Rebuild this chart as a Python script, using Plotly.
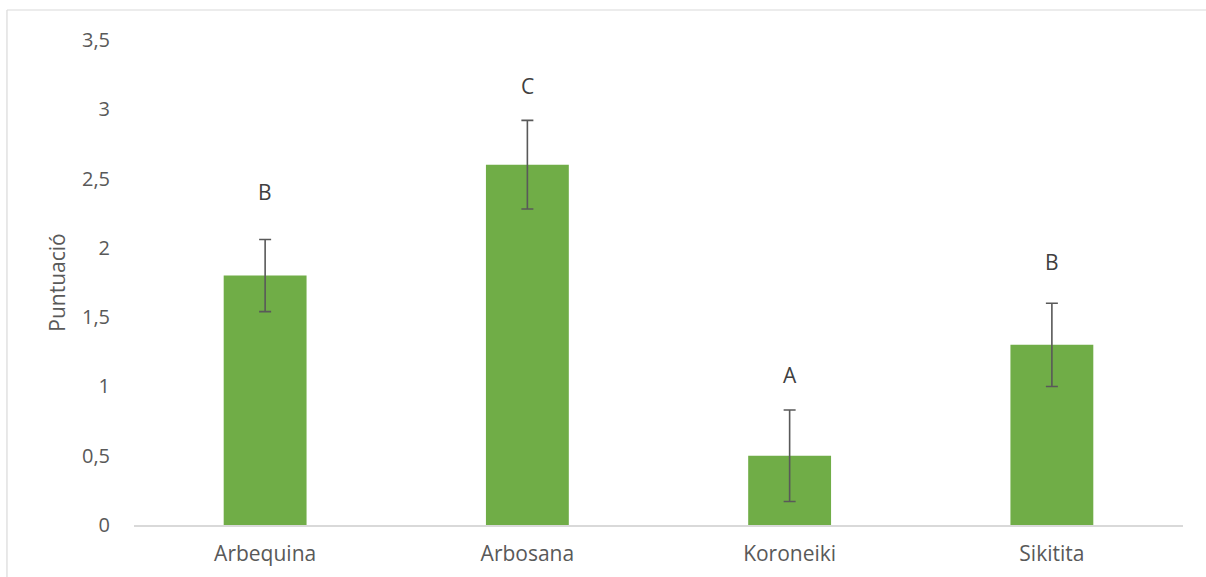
import plotly.graph_objects as go

categories = ["Arbequina", "Arbosana", "Koroneiki", "Sikitita"]
scores = [1.8, 2.6, 0.5, 1.3]
errors = [0.26, 0.32, 0.33, 0.30]
letters = ["B", "C", "A", "B"]
letter_y = [2.40, 3.17, 1.08, 1.90]
y_ticks = [0, 0.5, 1, 1.5, 2, 2.5, 3, 3.5]
y_tick_labels = ["0", "0,5", "1", "1,5", "2", "2,5", "3", "3,5"]

FONT = "Open Sans"
GREY = "#595959"

fig = go.Figure()
fig.add_trace(go.Bar(
    x=categories, y=scores, width=0.316,
    marker=dict(color="#70AD47", line=dict(width=0)),
    error_y=dict(type="data", array=errors, visible=True,
                 color=GREY, thickness=1.6, width=6),
    showlegend=False, hoverinfo="skip",
))

for c, t, yy in zip(categories, letters, letter_y):
    fig.add_annotation(x=c, y=yy, text=t, showarrow=False,
                       font=dict(family=FONT, size=21, color="#404040"))

# outer chart frame (cropped: only left and top edges visible)
fig.add_shape(type="line", xref="paper", yref="paper",
              x0=-0.1211, x1=-0.1211, y0=-0.2, y1=1.0619,
              line=dict(color="#D9D9D9", width=1.2))
fig.add_shape(type="line", xref="paper", yref="paper",
              x0=-0.1211, x1=1.1, y0=1.0619, y1=1.0619,
              line=dict(color="#D9D9D9", width=1.2))

fig.update_layout(
    width=1206, height=577,
    margin=dict(l=134, r=23, t=40, b=52, autoexpand=False),
    paper_bgcolor="white", plot_bgcolor="white",
    font=dict(family=FONT, size=20, color=GREY),
    xaxis=dict(showline=True, linecolor="#D9D9D9", linewidth=1.5,
               showgrid=False, ticks="", tickfont=dict(size=21, color=GREY),
               ticklabelstandoff=9, automargin=False, fixedrange=True),
    yaxis=dict(range=[0, 3.5], tickvals=y_ticks, ticktext=y_tick_labels,
               showgrid=False, zeroline=False, showline=False, ticks="",
               ticklabelstandoff=23, automargin=False,
               tickfont=dict(size=20, color=GREY),
               title=dict(text="Puntuació", font=dict(size=21, color=GREY),
                          standoff=10),
               fixedrange=True),
)

fig.write_html("out.html")
